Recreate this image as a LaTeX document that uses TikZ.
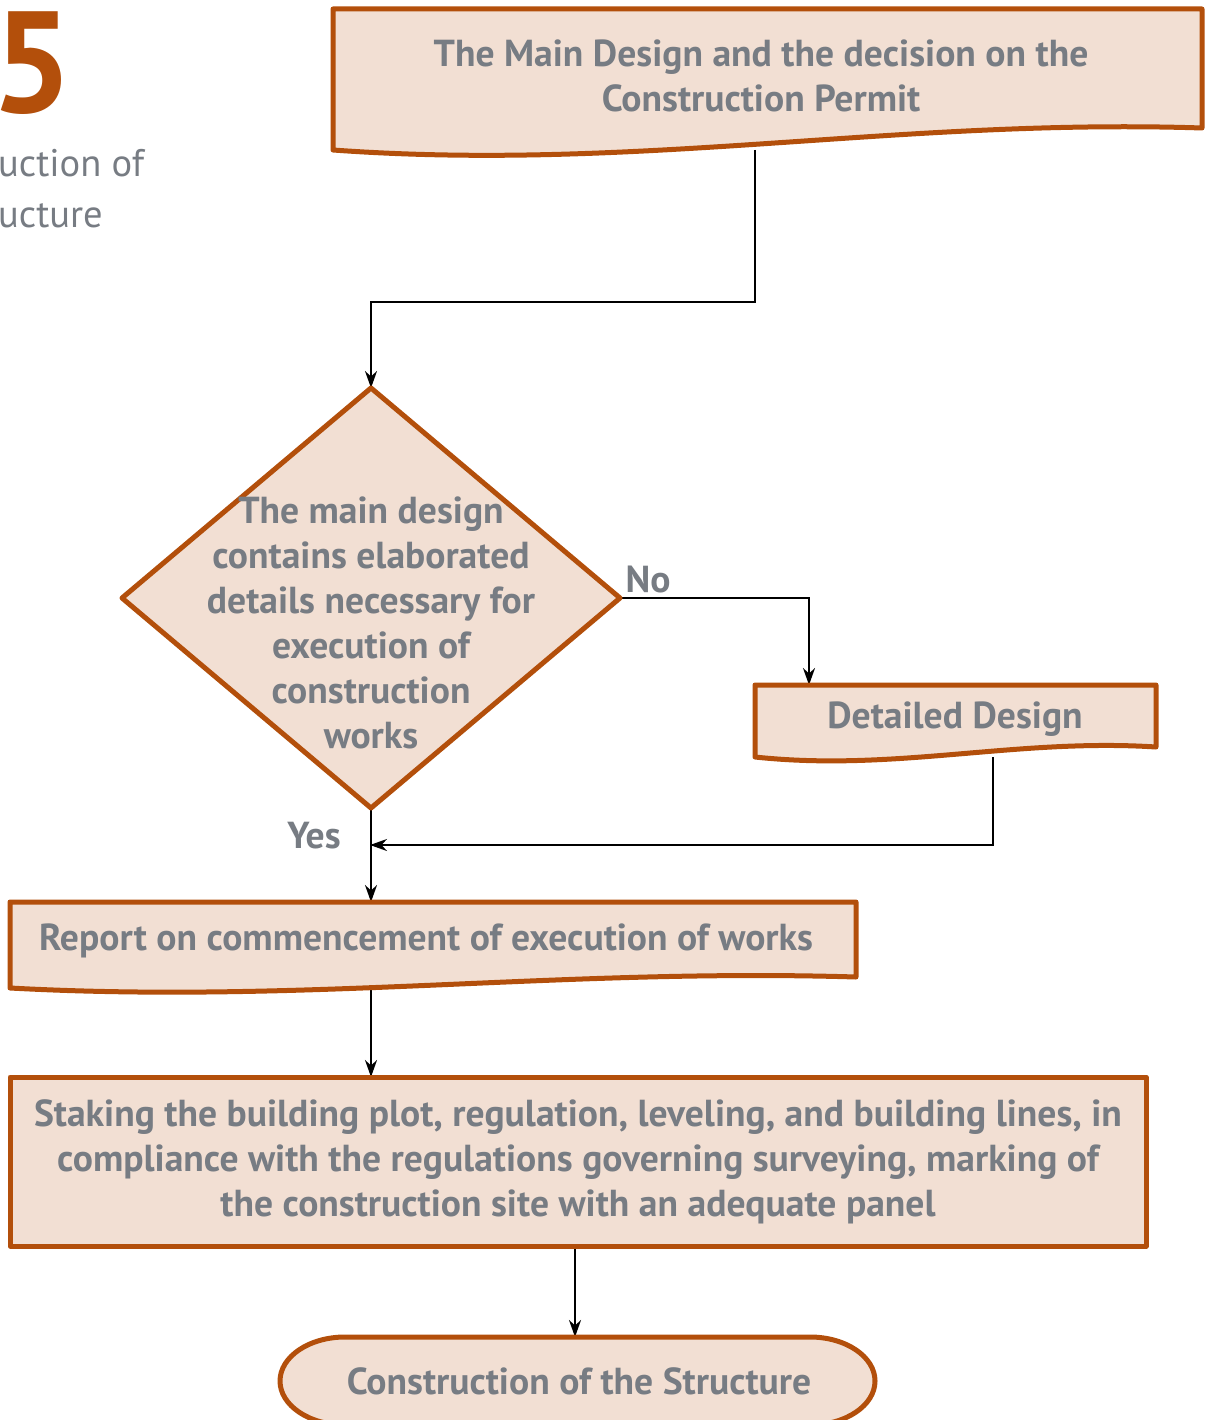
\documentclass[tikz,border=0pt]{standalone}
\usepackage{fontspec}
\setmainfont{PT Sans}
\usetikzlibrary{shapes.geometric,arrows.meta,backgrounds}

\definecolor{docfill}{HTML}{F2DFD3}
\definecolor{docline}{HTML}{B34F0B}
\definecolor{labelgray}{HTML}{777C83}

\tikzset{
  shapebox/.style={fill=docfill, draw=docline, line width=5pt, line join=round},
  anchorbox/.style={draw=none, rectangle, inner sep=0pt, outer sep=0pt},
  flowtext/.style={text=labelgray, font=\fontsize{37.6}{45}\selectfont\bfseries, align=center, inner sep=0pt},
  conn/.style={draw=black, line width=2pt},
  arr/.style={conn, -{Stealth[length=17pt, width=12pt]}},
}

\begin{document}
\begin{tikzpicture}[x=1pt,y=-1pt]
\useasboundingbox (0,0) rectangle (1207,1420);

% chapter number and heading
\node[anchor=base east, inner sep=0pt, text=docline, font=\fontsize{144}{144}\selectfont\bfseries] (chapnum) at (73,113) {5};
\node[anchor=base west, inner sep=0pt, text=labelgray, font=\fontsize{38.5}{48}\selectfont] (head1) at (-2,177) {uction of};
\node[anchor=base west, inner sep=0pt, text=labelgray, font=\fontsize{38.5}{48}\selectfont] (head2) at (-2,228) {ucture};

% frames used by the connectors
\node[anchorbox, minimum width=869, minimum height=141, anchor=north west] (main) at (333,9) {};
\node[anchorbox, minimum width=401, minimum height=72, anchor=north west] (det) at (755,685) {};
\node[anchorbox, minimum width=846, minimum height=86, anchor=north west] (rep) at (10,902) {};

% document shapes with a wavy lower edge
\path[shapebox] (333,150) -- (333,9) -- (1202,9) -- (1202,128)
  .. controls (898,118) and (637,172) .. cycle;
\path[shapebox] (755,757) -- (755,685) -- (1156,685) -- (1156,747)
  .. controls (1016,738) and (895,772) .. cycle;
\path[shapebox] (10,988) -- (10,902) -- (856,902) -- (856,977)
  .. controls (560,968) and (306,1004) .. cycle;

% decision
\node[diamond, shapebox, minimum width=498, minimum height=420, inner sep=0pt, outer sep=0pt] (dec) at (371,598) {};

% process box
\node[rectangle, shapebox, flowtext, minimum width=1136, minimum height=169, outer sep=0pt, anchor=north west] (stk) at (10,1077)
  {Staking the building plot, regulation, leveling, and building lines, in\\
   compliance with the regulations governing surveying, marking of\\
   the construction site with an adequate panel};

% terminal
\path[shapebox] (345,1337) -- (810,1337) arc[start angle=-90, end angle=90, x radius=65, y radius=44]
  -- (345,1425) arc[start angle=90, end angle=270, x radius=65, y radius=44] -- cycle;
\node[anchorbox, flowtext, minimum width=595, minimum height=88] (term) at (579,1381) {Construction of the Structure};

% texts
\node[flowtext] (maintext) at (761,76) {The Main Design and the decision on the\\Construction Permit};
\node[flowtext] (dectext) at (371,623) {The main design\\contains elaborated\\details necessary for\\execution of\\construction\\works};
\node[flowtext] (dettext) at (955,719) {Detailed Design};
\node[flowtext] (reptext) at (426,941) {Report on commencement of execution of works};
\node[flowtext] (nolabel) at (648,580) {No};
\node[flowtext] (yeslabel) at (314,836) {Yes};

% connectors
\coordinate (bendA) at (755,302);
\coordinate (bendNo) at (809,598);
\coordinate (bendB) at (993,845);
\coordinate (joinY) at (370,845);
\coordinate (lastX) at (575,0);
\begin{pgfonlayer}{background}
  \draw[arr] (main.south -| bendA) -- (bendA) -| (dec.north);
  \draw[arr] (dec.east) -- (bendNo) -- (bendNo |- det.north);
  \draw[arr] (bendB |- det.south) -- (bendB) -- (joinY);
  \draw[arr] (dec.south) -- (dec.south |- rep.north);
  \draw[arr] (dec.south |- rep.south) -- (dec.south |- stk.north);
  \draw[arr] (lastX |- stk.south) -- (lastX |- term.north);
\end{pgfonlayer}
\end{tikzpicture}
\end{document}
